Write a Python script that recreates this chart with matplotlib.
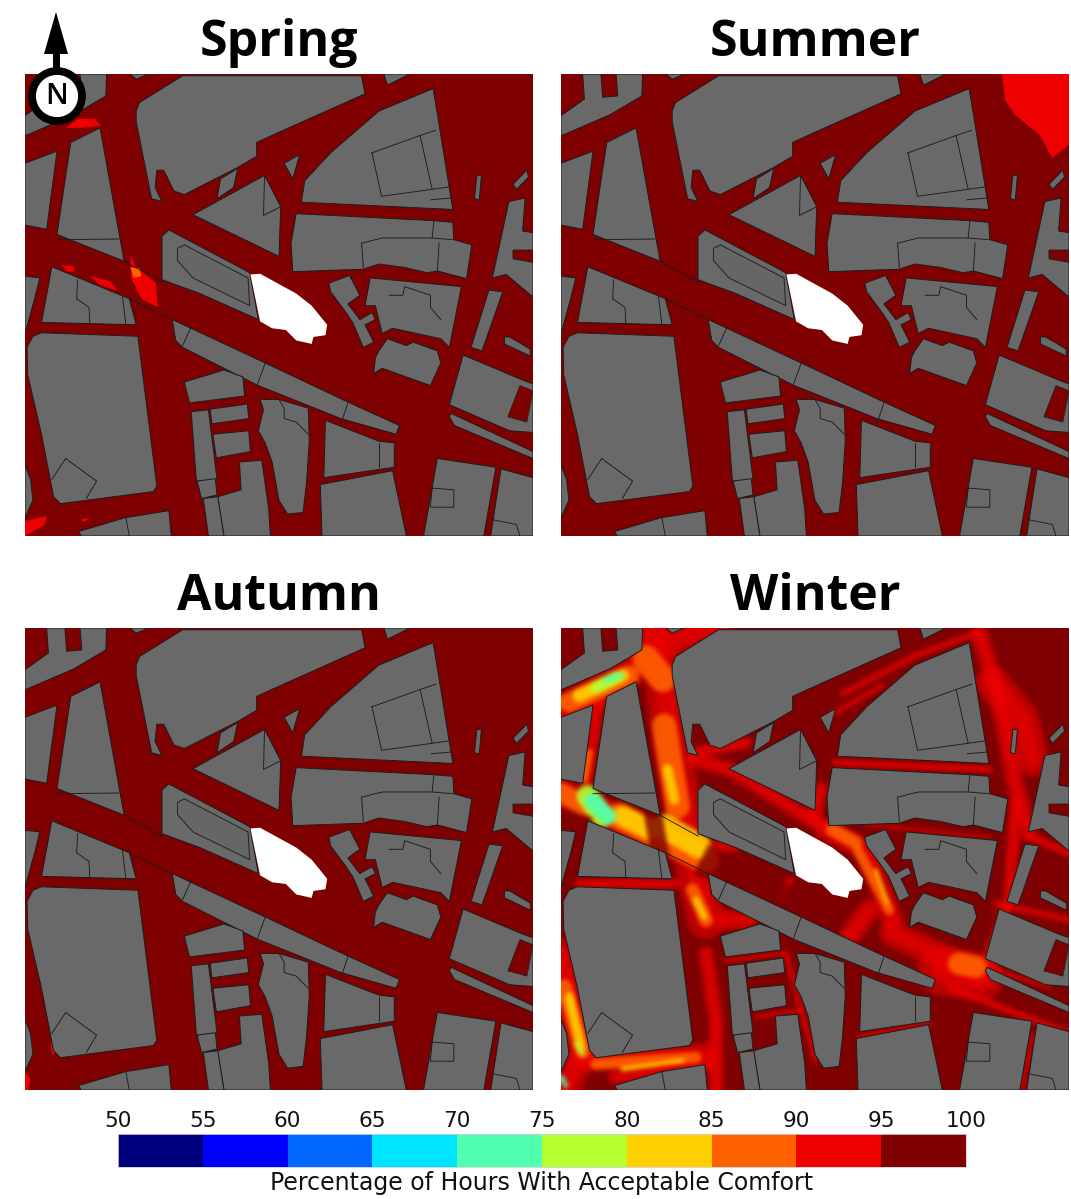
import matplotlib
matplotlib.use("Agg")
import matplotlib.pyplot as plt
import numpy as np
from matplotlib.colors import ListedColormap, BoundaryNorm
from matplotlib.patches import Polygon, Circle

W, H = 1071, 1199
seasons = ["Spring", "Summer", "Autumn", "Winter"]
panel_px = {"Spring": (25, 74), "Summer": (561, 74), "Autumn": (25, 628), "Winter": (561, 628)}
cbar_levels = [50, 55, 60, 65, 70, 75, 80, 85, 90, 95, 100]
cbar_colors = ["#00007f", "#0000ff", "#0066ff", "#00e5ff", "#50ffb0",
               "#b8ff30", "#ffd000", "#ff6000", "#ee0000", "#7f0000"]
cbar_label = "Percentage of Hours With Acceptable Comfort"
cmap = ListedColormap(cbar_colors)
norm = BoundaryNorm(cbar_levels, cmap.N)

# Building footprints (map units)
buildings = [
    [(72,391),(72,333),(140,285),(135,213),(188,213),(193,280),(237,276),(232,213),(309,213),(307,276),(215,330)],
    [(378,213),(430,213),(395,228)],
    [(395,320),(405,295),(530,218),(1050,218),(1060,270),(800,385),(745,410),(745,450),(690,482),(535,560),(505,550),(475,490),(455,490),(450,540),(470,580),(440,572),(395,350)],
    [(1115,213),(1190,213),(1125,245)],
    [(640,515),(690,485),(678,540),(630,572)],
    [(875,582),(885,520),(960,440),(1100,320),(1258,255),(1315,603)],
    [(825,470),(870,445),(850,515)],
    [(560,618),(768,505),(815,595),(810,738)],
    [(860,615),(1255,635),(1315,640),(1318,690),(1370,705),(1355,802),(1270,780),(1240,785),(1175,770),(1100,760),(1055,775),(850,782),(845,700)],
    [(72,470),(165,435),(135,660),(72,648)],
    [(205,410),(290,368),(360,752),(165,675)],
    [(150,768),(375,860),(395,935),(120,928)],
    [(72,795),(115,800),(100,860),(72,960)],
    [(120,958),(400,968),(455,1400),(445,1415),(175,1450),(155,1430),(120,1250),(80,1080),(78,1000),(95,968)],
    [(72,1340),(88,1380),(95,1440),(72,1490)],
    [(500,920),(770,1045),(1005,1155),(1160,1225),(1150,1250),(990,1205),(750,1110),(530,1000),(510,980)],
    [(535,1100),(650,1065),(705,1085),(710,1140),(550,1160)],
    [(555,1185),(605,1180),(630,1380),(570,1385)],
    [(610,1178),(718,1163),(722,1205),(615,1220)],
    [(618,1250),(722,1240),(727,1300),(628,1318)],
    [(572,1385),(625,1378),(630,1425),(585,1435)],
    [(695,1330),(760,1325),(780,1465),(785,1543),(650,1543),(632,1430),(700,1410)],
    [(590,1435),(632,1430),(650,1543),(605,1543)],
    [(755,1150),(810,1150),(895,1175),(898,1270),(890,1390),(880,1475),(835,1480),(810,1440),(790,1330),(770,1275),(750,1240),(765,1180)],
    [(945,1210),(1100,1270),(1145,1275),(1145,1345),(940,1375)],
    [(930,1395),(1140,1355),(1180,1543),(935,1543)],
    [(1270,1320),(1440,1345),(1405,1543),(1230,1543)],
    [(1455,1350),(1548,1375),(1548,1543),(1425,1543)],
    [(1345,1022),(1520,1095),(1548,1105),(1548,1245),(1480,1240),(1305,1165)],
    [(1310,1190),(1548,1300),(1548,1320),(1320,1225),(1305,1200)],
    [(1420,835),(1460,840),(1400,1010),(1368,1000)],
    [(1465,970),(1480,970),(1540,1005),(1540,1025),(1465,990)],
    [(1478,580),(1525,570),(1518,665),(1548,670),(1548,720),(1490,720),(1490,745),(1548,755),(1548,855),(1470,790),(1430,800)],
    [(1385,505),(1398,505),(1392,575),(1378,572)],
    [(1490,530),(1530,490),(1535,510),(1500,545)],
    [(228,1530),(365,1490),(490,1470),(497,1543),(235,1543)],
    [(955,815),(1015,793),(1045,850),(1010,875),(1045,920),(1080,900),(1090,920),(1060,935),(1085,985),(1055,1000),(1025,930),(1005,900),(960,840)],
    [(1075,800),(1340,825),(1305,1000),(1280,975),(1140,945),(1110,960),(1090,880),(1060,880)],
    [(1125,975),(1180,995),(1200,985),(1270,1010),(1280,1045),(1250,1110),(1110,1060),(1085,1075),(1090,1030),(1100,1010)],
]
old_block = [(470,680),(490,662),(725,785),(750,920),(580,845),(470,805)]
old_block_inner = [(515,715),(535,705),(720,800),(725,880),(560,800),(515,750)]
site = [(727,790),(755,788),(860,845),(905,880),(950,935),(945,965),(910,970),(905,990),(860,980),(830,950),(790,945),(755,925)]
courtyard = [(1510,1110),(1548,1125),(1530,1215),(1475,1200)]
outlines = [
    [(1080,440),(1220,390),(1255,545),(1108,565),(1080,440)],
    [(1220,390),(1265,375)], [(1255,545),(1305,538)], [(1252,575),(1310,570)],
    [(768,505),(765,620),(815,595)],
    [(1050,700),(1110,685),(1255,685),(1260,635)], [(1050,700),(1055,770)],
    [(1255,685),(1315,690)], [(1275,700),(1270,785)],
    [(165,690),(345,688)],
    [(225,805),(222,860),(258,885),(260,930)], [(355,850),(365,935)],
    [(150,1380),(190,1320),(280,1385),(250,1435)],
    [(555,940),(530,995)], [(770,1045),(748,1105)], [(1010,1160),(990,1220)],
    [(1130,850),(1170,850),(1175,825),(1250,850),(1250,885),(1280,920)],
    [(1100,1275),(1100,1345)],
    [(1255,1405),(1318,1410),(1318,1460),(1250,1460),(1255,1405)],
    [(1425,1495),(1500,1510),(1510,1543)],
    [(365,1490),(375,1543)],
    [(810,1150),(825,1175),(825,1205),(860,1215),(895,1250)],
    [(360,752),(470,812)],
    [(375,860),(500,920)],
]

# Zones below 95 % in the calmer seasons: (outline, comfort value)
spring_zones = [
    ([(378,730),(392,765),(452,815),(458,885),(410,860),(380,800)], 92),
    ([(378,770),(405,772),(410,795),(388,800)], 87),
    ([(190,368),(225,342),(275,342),(292,362),(235,368)], 92),
    ([(180,765),(212,765),(215,782),(195,782)], 92),
    ([(260,795),(320,810),(342,838),(290,820)], 92),
    ([(72,1500),(135,1485),(130,1510),(72,1543)], 92),
    ([(235,1495),(265,1490),(240,1503)], 92),
]
summer_zones = [
    ([(1353,213),(1548,213),(1548,417),(1499,455),(1464,389),(1391,331),(1362,288)], 92),
]
autumn_zones = [
    ([(72,1490),(88,1510),(82,1543),(72,1543)], 92),
    ([(145,1395),(158,1440),(150,1440)], 92),
]

# Winter comfort streaks: band value, stroke width, path
winter_93 = [
    (30, [(35,280),(150,215),(250,150),(345,70),(500,25)]),
    (34, [(300,25),(340,150),(370,400),(420,650),(470,900)]),
    (14, [(150,220),(110,480)]),
    (26, [(35,520),(470,720)]),
    (26, [(35,1000),(100,1300)]), (26, [(100,1300),(50,1400)]),
    (20, [(120,1320),(470,1300)]), (14, [(200,1370),(470,1330)]),
    (14, [(430,420),(540,450),(770,590),(900,660)]),
    (6, [(880,225),(1100,110),(1290,40)]),
    (5, [(840,290),(1000,200)]),
    (16, [(1290,45),(1340,200),(1400,500),(1440,640)]),
    (30, [(1330,190),(1420,300),(1450,420)]),
    (10, [(90,790),(380,790)]),
    (7, [(860,430),(1320,450)]),
    (14, [(815,510),(790,600)]),
    (20, [(830,630),(950,690),(1030,900)]),
    (24, [(1030,940),(1200,1020),(1310,1060)]),
    (44, [(1180,1050),(1290,1070)]),
    (4, [(530,1020),(700,1000)]),
    (5, [(710,1000),(760,1180),(800,1320)]),
    (4, [(620,1190),(750,1170)]),
    (5, [(930,1250),(1140,1210)]),
    (3, [(950,615),(1320,655)]),
    (4, [(1310,1040),(1500,1100)]),
    (6, [(1340,850),(1560,900)]),
    (8, [(1440,650),(1560,700)]),
    (12, [(1400,550),(1380,840),(1310,1040)]),
    (16, [(460,700),(550,670)]),
    (20, [(900,950),(960,870)]),
    (4, [(1450,1240),(1420,1400)]),
    (14, [(470,1000),(500,1200),(500,1400)]),
    (18, [(520,900),(600,900)]),
    (8, [(700,830),(720,785)]),
    (7, [(1200,1100),(1560,1240)]),
    (12, [(440,400),(590,370)]),
]
winter_88 = [
    (18, [(60,250),(240,170)]),
    (24, [(290,120),(340,180)]),
    (22, [(345,320),(385,560)]),
    (18, [(35,520),(110,560)]),
    (24, [(210,590),(470,720)]),
    (14, [(45,1100),(100,1290)]),
    (10, [(140,1330),(440,1310)]),
    (9, [(925,690),(1020,870)]),
    (12, [(430,810),(470,900)]),
    (7, [(120,400),(105,480)]),
    (20, [(1230,1030),(1280,1040)]),
    (12, [(850,630),(920,670)]),
]
winter_83 = [
    (12, [(90,230),(220,170)]),
    (9, [(355,450),(375,540)]),
    (18, [(220,590),(300,630)]),
    (22, [(345,620),(450,680)]),
    (8, [(60,1130),(95,1280)]),
    (3, [(980,750),(1015,850)]),
    (4, [(220,1345),(400,1320)]),
    (6, [(440,840),(465,890)]),
]
winter_78 = [
    (11, [(140,205),(200,175)]),
    (20, [(115,530),(160,590)]),
    (4, [(80,1270),(100,1300)]),
]
winter_72 = [
    (5, [(170,185),(215,170)]),
    (15, [(130,545),(175,590)]),
    (4, [(38,1370),(50,1395)]),
]
winter_dark = [
    (13, [(312,590),(330,690)]),
    (8, [(45,590),(110,605)]),
    (24, [(500,740),(700,840)]),
    (10, [(780,320),(700,350)]),
    (10, [(1400,80),(1560,80)]),
]
winter_bands = [(93, winter_93), (88, winter_88), (83, winter_83), (78, winter_78), (72, winter_72)]


def from_winter_crop(p):
    return (72 + (p[0] - 35) * 0.968, 213 + (p[1] - 25) * 0.962)


def box_blur(img, r):
    for axis in (0, 1):
        pad = [(0, 0)] * img.ndim
        pad[axis] = (r + 1, r)
        c = np.cumsum(np.pad(img, pad, mode="edge"), axis=axis)
        hi = np.take(c, range(2 * r + 1, c.shape[axis]), axis=axis)
        lo = np.take(c, range(0, c.shape[axis] - 2 * r - 1), axis=axis)
        img = (hi - lo) / (2 * r + 1)
    return img


def winter_field():
    off = plt.figure(figsize=(5.08, 4.62), dpi=100)
    a = off.add_axes([0, 0, 1, 1])
    a.set_xlim(72, 1548)
    a.set_ylim(1543, 213)
    a.axis("off")
    off.patch.set_facecolor(cmap(norm(98)))
    for val, band in winter_bands:
        col = cmap(norm(val))
        for width, path in band:
            xs, ys = zip(*[from_winter_crop(p) for p in path])
            if val == 93:
                a.plot(xs, ys, color=col, lw=width * 0.8, alpha=0.55, solid_capstyle="round", solid_joinstyle="round")
                a.plot(xs, ys, color=col, lw=width * 0.4, alpha=0.6, solid_capstyle="round", solid_joinstyle="round")
            else:
                a.plot(xs, ys, color=col, lw=width * 0.8, alpha=0.9, solid_capstyle="round", solid_joinstyle="round")
    for width, path in winter_dark:
        xs, ys = zip(*[from_winter_crop(p) for p in path])
        a.plot(xs, ys, color=cmap(norm(98)), lw=width, alpha=0.8)
    off.canvas.draw()
    rgb = np.asarray(off.canvas.buffer_rgba())[:, :, :3].astype(float)
    plt.close(off)
    return box_blur(box_blur(rgb, 2), 2) / 255.0


fig = plt.figure(figsize=(W / 100, H / 100), dpi=100, facecolor="white")


def make_axes(x0, y0, w, h):
    return fig.add_axes([x0 / W, 1 - (y0 + h) / H, w / W, h / H])


field = winter_field()
for name in seasons:
    px, py = panel_px[name]
    ax = make_axes(px, py, 508, 462)
    ax.add_patch(Polygon([(72,213),(1548,213),(1548,1543),(72,1543)], fc=cmap(norm(98)), ec="none", zorder=0))
    zones = {"Spring": spring_zones, "Summer": summer_zones, "Autumn": autumn_zones}.get(name, [])
    for poly, val in zones:
        ax.add_patch(Polygon(poly, fc=cmap(norm(val)), ec="none", zorder=1))
    if name == "Winter":
        ax.imshow(field, extent=(72, 1548, 1543, 213), aspect="auto", zorder=1.5, interpolation="bilinear")
    for poly in buildings + [old_block]:
        ax.add_patch(Polygon(poly, fc="#696969", ec="#1c1c1c", lw=0.7, zorder=3))
    ax.add_patch(Polygon(old_block_inner, fc="#666666", ec="#222222", lw=0.7, zorder=3.1))
    ax.add_patch(Polygon(courtyard, fc=cmap(norm(98)), ec="#222222", lw=0.6, zorder=3.1))
    for path in outlines:
        xs, ys = zip(*path)
        ax.plot(xs, ys, color="#1c1c1c", lw=0.65, zorder=3.2)
    ax.add_patch(Polygon(site, fc="white", ec="none", zorder=4))
    ax.set_xlim(72, 1548)
    ax.set_ylim(1543, 213)
    ax.axis("off")
    fig.text((px + 254) / W, 1 - (py - 31) / H, name, ha="center", va="center",
             fontsize=36, fontweight="bold", family="Open Sans", color="black")

# Colour bar
cax = make_axes(118, 1134, 848, 33)
cax.pcolormesh(cbar_levels, [0, 1], [cbar_levels[:-1]], cmap=cmap, norm=norm, shading="flat")
cax.set_yticks([])
cax.set_xticks(cbar_levels)
cax.xaxis.tick_top()
cax.tick_params(axis="x", length=0, pad=2, labelsize=15.5, labelcolor="#111111")
for lab in cax.get_xticklabels():
    lab.set_family("DejaVu Sans")
for sp in cax.spines.values():
    sp.set_edgecolor("#cfcfd8")
    sp.set_linewidth(0.6)
fig.text(542 / W, 1 - 1183 / H, cbar_label, ha="center", va="center", fontsize=17,
         family="DejaVu Sans", color="#111111")

# North arrow
ov = fig.add_axes([0, 0, 1, 1], facecolor="none", zorder=10)
ov.set_xlim(0, W)
ov.set_ylim(H, 0)
ov.axis("off")
ov.add_patch(Polygon([(56,12),(68,54),(60,54),(60,72),(53,72),(53,54),(44,54)], fc="black", ec="none"))
ov.add_patch(Circle((57, 96), 25, fc="white", ec="black", lw=5.6))
ov.text(57, 96, "N", ha="center", va="center", fontsize=21, fontweight="semibold", family="Open Sans", color="black")

fig.savefig("out.png", dpi=100, facecolor="white")
